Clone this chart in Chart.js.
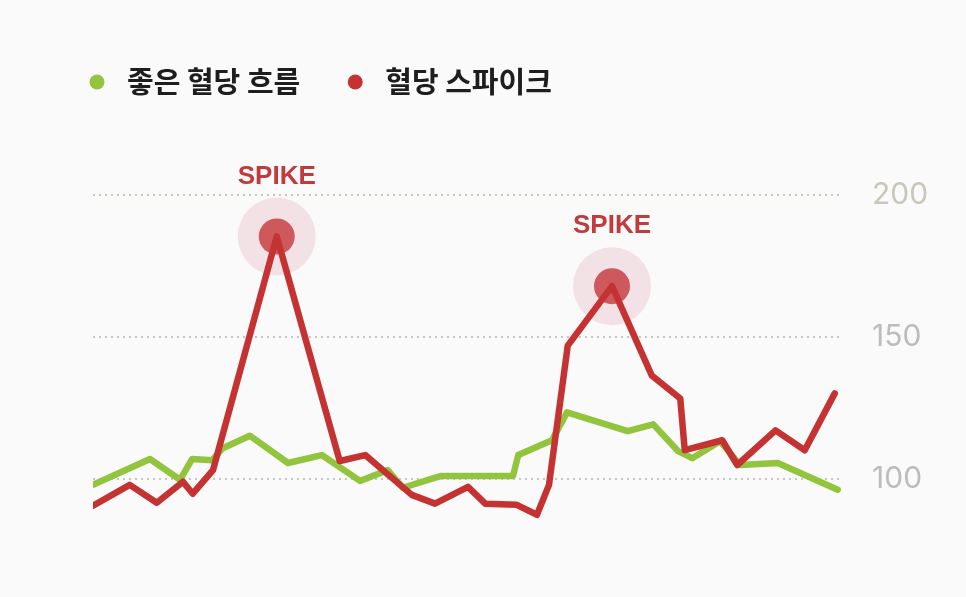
<!DOCTYPE html>
<html>
<head>
<meta charset="utf-8">
<script src="https://cdn.jsdelivr.net/npm/chart.js@4"></script>
<style>
  html, body { margin: 0; padding: 0; background: #fafafa; }
  #wrap { width: 966px; height: 597px; }
</style>
</head>
<body>
<div id="wrap"><canvas id="glucoseChart" width="966" height="597"></canvas></div>
<script>
const seriesNames = ["좋은 혈당 흐름", "혈당 스파이크"];

// time (relative units) and glucose values
const goodTimes = [0, 7.6, 11.6, 13.2, 15.9, 17.3, 20.9, 26.0, 30.5, 35.6, 39.3, 41.3, 46.3, 56.0, 56.7, 61.2, 63.2, 71.3, 74.7, 78.0, 79.9, 83.6, 86.3, 91.3, 94.9, 99.3];
const goodValues = [97.9, 107.0, 99.7, 107.0, 106.6, 110.8, 115.2, 105.6, 108.4, 99.3, 103.1, 96.9, 101.0, 101.0, 108.4, 113.6, 123.4, 116.8, 119.2, 109.8, 107.3, 113.3, 104.9, 105.6, 101.4, 96.2];

const spikeTimes = [0, 4.9, 8.5, 12.0, 13.3, 16.0, 24.5, 32.9, 36.3, 42.5, 45.6, 50.0, 52.3, 56.5, 59.2, 60.8, 63.3, 69.2, 74.5, 78.3, 78.9, 83.9, 85.9, 91.0, 94.9, 98.9];
const spikeValues = [90.6, 97.9, 91.6, 99.0, 94.8, 103.1, 185.3, 106.3, 108.4, 94.4, 91.3, 97.2, 91.3, 90.9, 87.4, 97.9, 146.9, 167.8, 136.4, 128.3, 110.1, 113.6, 104.9, 117.1, 110.1, 130.1];

const spikePeaks = [6, 17];
const spikeLabel = "SPIKE";
const yTicks = [100, 150, 200];

const green = "rgb(146, 196, 62)";
const red = "rgb(197, 50, 50)";

function toPoints(xs, ys) {
  return xs.map((x, i) => ({ x: x, y: ys[i] }));
}

const dotLegend = {
  id: "dotLegend",
  afterDraw(chart) {
    const ctx = chart.ctx;
    ctx.save();
    ctx.font = "bold 29px 'Noto Sans CJK KR'";
    ctx.textBaseline = "middle";
    let x = chart.chartArea.left + 4;
    const y = 82;
    chart.data.datasets.forEach((ds) => {
      ctx.fillStyle = ds.borderColor;
      ctx.beginPath();
      ctx.arc(x, y, 7.5, 0, Math.PI * 2);
      ctx.fill();
      ctx.fillStyle = "#1e1e1e";
      ctx.textAlign = "left";
      ctx.fillText(ds.label, x + 30, y);
      x += 30 + ctx.measureText(ds.label).width + 55;
    });
    ctx.restore();
  },
};

const spikeMarks = {
  id: "spikeMarks",
  beforeDatasetsDraw(chart) {
    const ctx = chart.ctx;
    const pts = chart.getDatasetMeta(1).data;
    ctx.save();
    spikePeaks.forEach((i) => {
      const p = pts[i];
      ctx.fillStyle = "rgba(196, 70, 100, 0.13)";
      ctx.beginPath();
      ctx.arc(p.x, p.y, 39, 0, Math.PI * 2);
      ctx.fill();
      ctx.fillStyle = "rgba(196, 50, 55, 0.78)";
      ctx.beginPath();
      ctx.arc(p.x, p.y, 18, 0, Math.PI * 2);
      ctx.fill();
    });
    ctx.restore();
  },
  afterDatasetsDraw(chart) {
    const ctx = chart.ctx;
    const pts = chart.getDatasetMeta(1).data;
    ctx.save();
    ctx.font = "bold 26px 'Liberation Sans'";
    ctx.fillStyle = "#c23a3c";
    ctx.textAlign = "center";
    ctx.textBaseline = "middle";
    spikePeaks.forEach((i) => {
      const p = pts[i];
      ctx.fillText(spikeLabel, p.x, p.y - 60);
    });
    ctx.restore();
  },
};

const ctx = document.getElementById("glucoseChart").getContext("2d");
new Chart(ctx, {
  type: "line",
  data: {
    datasets: [
      {
        label: seriesNames[0],
        data: toPoints(goodTimes, goodValues),
        borderColor: green,
        borderWidth: 6.5,
        order: 2,
      },
      {
        label: seriesNames[1],
        data: toPoints(spikeTimes, spikeValues),
        borderColor: red,
        borderWidth: 6.5,
        order: 1,
      },
    ],
  },
  options: {
    responsive: false,
    animation: false,
    layout: { padding: { top: 152, bottom: 44.5, left: 93, right: 0 } },
    elements: {
      point: { radius: 0 },
      line: { tension: 0, borderJoinStyle: "round", borderCapStyle: "round" },
    },
    plugins: {
      legend: { display: false },
      tooltip: { enabled: false },
    },
    scales: {
      x: {
        type: "linear",
        min: 0,
        max: 100,
        display: false,
      },
      y: {
        position: "right",
        min: 75,
        max: 215,
        afterBuildTicks: (s) => {
          s.ticks = yTicks.map((v) => ({ value: v }));
        },
        afterFit: (s) => {
          s.width = 123;
        },
        grid: {
          color: (c) => (c.tick && c.tick.value === 200 ? "#c4c8ae" : "#c6c6c6"),
          lineWidth: 2,
          drawTicks: false,
        },
        border: { display: false, dash: [2, 4] },
        ticks: {
          padding: 29,
          color: (c) => (c.tick && c.tick.value === 200 ? "#c9c7bc" : "#bcbcbf"),
          font: { family: "Inter", size: 30 },
        },
      },
    },
  },
  plugins: [dotLegend, spikeMarks],
});
</script>
</body>
</html>
